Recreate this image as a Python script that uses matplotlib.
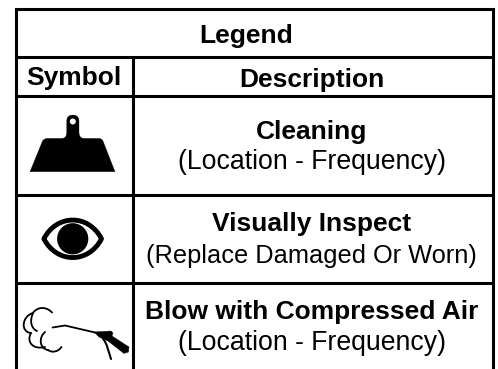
import numpy as np
import matplotlib
matplotlib.use("Agg")
import matplotlib.pyplot as plt
from matplotlib.patches import PathPatch, Circle
from matplotlib.path import Path

plt.rcParams['font.family'] = ['Liberation Sans', 'DejaVu Sans']

title = "Legend"
col_symbol = "Symbol"
col_desc = "Description"
names = ["Cleaning", "Visually Inspect", "Blow with Compressed Air"]
notes = ["(Location - Frequency)", "(Replace Damaged Or Worn)", "(Location - Frequency)"]

fig = plt.figure(figsize=(4.98, 3.69), dpi=100, facecolor='white')
ax = fig.add_axes([0, 0, 1, 1])
ax.set_xlim(0, 498)
ax.set_ylim(369, 0)
ax.axis('off')

L, R, T, MID = 15.5, 493, 9, 132.5
H = [57, 96, 195, 283]
lw = 2.2
ax.plot([L, L], [T, 369], color='k', lw=lw, solid_capstyle='butt')
ax.plot([R, R], [T, 369], color='k', lw=lw, solid_capstyle='butt')
ax.plot([L, R], [T, T], color='k', lw=lw, solid_capstyle='projecting')
for y in H:
    ax.plot([L, R], [y, y], color='k', lw=lw, solid_capstyle='butt')
ax.plot([MID, MID], [H[0], 369], color='k', lw=lw, solid_capstyle='butt')

fs_b = 19.0
note_fs = [19.2, 18.3, 19.2]
cx = 311.5
ax.text(246.5, 42.5, title, fontsize=fs_b, fontweight='bold', ha='center', va='baseline')
ax.text(73.5, 85.5, col_symbol, fontsize=fs_b, fontweight='bold', ha='center', va='baseline')
ax.text(cx, 87.5, col_desc, fontsize=fs_b, fontweight='bold', ha='center', va='baseline')
name_y = [139, 230.5, 319.5]
note_y = [169, 263, 349.5]
for n, a, yn, ya, fs in zip(names, notes, name_y, note_y, note_fs):
    ax.text(cx, yn, n, fontsize=fs_b, fontweight='bold', ha='center', va='baseline')
    ax.text(cx, ya, a, fontsize=fs, ha='center', va='baseline')

# scraper icon
M, C3, Z = Path.MOVETO, Path.CURVE3, Path.CLOSEPOLY
LN = Path.LINETO
verts = [(30, 171.7), (42.5, 141), (44, 138.6), (47, 138.4), (62, 138.4), (66.7, 138.4),
         (66.7, 132), (66.7, 121), (66.7, 115), (72.8, 115), (79, 115), (79, 121),
         (79, 132), (79, 138.4), (84, 138.4), (99, 138.4), (102, 138.6), (103, 141),
         (115, 171.7), (30, 171.7)]
codes = [M, LN, C3, C3, LN, C3, C3, LN, C3, C3, C3, C3, LN, C3, C3, LN, C3, C3, LN, Z]
ax.add_patch(PathPatch(Path(verts, codes), fc='k', ec='k', lw=0.2))
ax.add_patch(Circle((72.8, 121.5), 3, fc='white', ec='none'))

# eye icon
ex, ey = 72.7, 238.8
k = 28.8
h = 25.0
eye_v = [(ex - k, ey), (ex - 16, ey - h), (ex + 16, ey - h), (ex + k, ey),
         (ex + 16, ey + h), (ex - 16, ey + h), (ex - k, ey), (ex - k, ey)]
eye_c = [Path.MOVETO] + [Path.CURVE4] * 6 + [Path.CLOSEPOLY]
ax.add_patch(PathPatch(Path(eye_v, eye_c), fc='white', ec='k', lw=3.5, joinstyle='round'))
ax.add_patch(Circle((ex, ey), 15.6, fc='k', ec='none'))

# air gun icon, drawn in px
def curve(pts, lw=1.3):
    codes = [Path.MOVETO] + [Path.CURVE4] * (len(pts) - 1)
    ax.add_patch(PathPatch(Path(pts, codes), fc='none', ec='k', lw=lw, capstyle='round'))

curve([(52, 312.5), (45, 305), (36, 308), (33, 313)])
curve([(33, 313), (22, 316), (20, 332), (31, 333)])
curve([(33, 313), (29, 322), (32, 329), (37, 331)])
curve([(31, 333), (26, 342), (33, 350), (45, 347)])
curve([(45, 332), (38, 338), (40, 349), (48, 350)])
curve([(48, 350), (52, 353), (58, 352), (61.5, 347)])
ax.plot([52.5, 65, 95], [327.5, 325.5, 332.5], color='k', lw=1.3, solid_capstyle='round')
gun = [(94, 332), (111, 331), (113, 333), (112, 336), (129, 347), (128.5, 352),
       (124, 353.5), (108, 341), (99, 337)]
ax.add_patch(plt.Polygon(gun, closed=True, fc='k', ec='k', lw=0.3))
curve([(103, 339), (107, 343), (108, 350), (111, 359)], lw=1.5)

fig.savefig("out.png", dpi=100)
